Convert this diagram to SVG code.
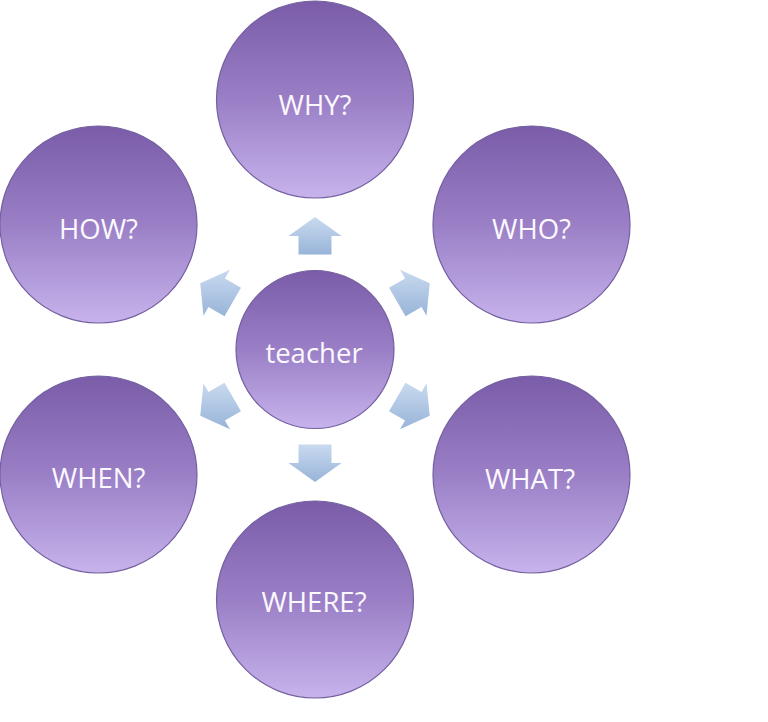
<svg xmlns="http://www.w3.org/2000/svg" width="768" height="722" viewBox="0 0 768 722">
<defs>
<linearGradient id="gc" x1="0" y1="0" x2="0" y2="1">
<stop offset="0" stop-color="#7a5ca8"/>
<stop offset="0.5" stop-color="#9a7fc6"/>
<stop offset="1" stop-color="#c7b3ec"/>
</linearGradient>
<linearGradient id="ga" x1="0" y1="0" x2="0" y2="1">
<stop offset="0" stop-color="#c9daef"/>
<stop offset="1" stop-color="#98b4d9"/>
</linearGradient>
<style>
.c{fill:url(#gc);stroke:#7460a0;stroke-width:1.2}
.a{fill:url(#ga);stroke:none}
.t{font-family:"Open Sans","Noto Sans","Liberation Sans",sans-serif;font-size:27.5px;fill:#fbf8fe;text-anchor:middle}
</style>
</defs>
<rect width="768" height="722" fill="#ffffff"/>
<g id="connectors">
<polygon class="a" points="298.5,254.5 298.5,236 288.5,236 315,217 341.5,236 331.5,236 331.5,254.5"/>
<polygon class="a" points="389.02,287.71 405.04,278.46 400.04,269.8 429.75,283.25 426.54,315.7 421.54,307.04 405.52,316.29"/>
<polygon class="a" points="405.52,382.71 421.54,391.96 426.54,383.3 429.75,415.75 400.04,429.2 405.04,420.54 389.02,411.29"/>
<polygon class="a" points="331.5,444.5 331.5,463 341.5,463 315,482 288.5,463 298.5,463 298.5,444.5"/>
<polygon class="a" points="224.48,382.71 208.46,391.96 203.46,383.3 200.25,415.75 229.96,429.2 224.96,420.54 240.98,411.29"/>
<polygon class="a" points="240.98,287.71 224.96,278.46 229.96,269.8 200.25,283.25 203.46,315.7 208.46,307.04 224.48,316.29"/>
</g>
<g id="teacher">
<circle class="c" cx="315" cy="349.5" r="79"/>
<text class="t" x="314" y="363">teacher</text>
</g>
<g id="why">
<circle class="c" cx="315" cy="99.5" r="98.5"/>
<text class="t" x="315" y="115">WHY?</text>
</g>
<g id="who">
<circle class="c" cx="531.5" cy="224.5" r="98.5"/>
<text class="t" x="531.5" y="239">WHO?</text>
</g>
<g id="what">
<circle class="c" cx="531.5" cy="474.5" r="98.5"/>
<text class="t" x="530" y="489">WHAT?</text>
</g>
<g id="where">
<circle class="c" cx="315" cy="599.5" r="98.5"/>
<text class="t" x="314" y="612">WHERE?</text>
</g>
<g id="when">
<circle class="c" cx="98.5" cy="474.5" r="98.5"/>
<text class="t" x="98.5" y="488">WHEN?</text>
</g>
<g id="how">
<circle class="c" cx="98.5" cy="224.5" r="98.5"/>
<text class="t" x="98.5" y="239">HOW?</text>
</g>
</svg>
